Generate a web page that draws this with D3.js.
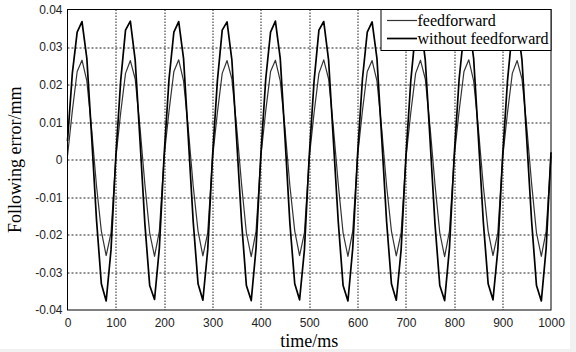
<!DOCTYPE html>
<html>
<head>
<meta charset="utf-8">
<script src="https://cdn.jsdelivr.net/npm/d3@7/dist/d3.min.js"></script>
<style>
  body { margin: 0; background: #fff; }
  .tick-label { font-family: "Liberation Sans", Arial, sans-serif; font-size: 12px; fill: #222; }
  .label { font-family: "Liberation Serif", "Times New Roman", serif; font-size: 18px; fill: #000; }
  .legend-text { font-family: "Liberation Serif", "Times New Roman", serif; font-size: 16px; fill: #000; }
</style>
</head>
<body>
<div id="chart"></div>
<script>
// time axis (ms), sampled every 10 ms
var times = [0, 10, 20, 30, 40, 50, 60, 70, 80, 90,
  100, 110, 120, 130, 140, 150, 160, 170, 180, 190,
  200, 210, 220, 230, 240, 250, 260, 270, 280, 290,
  300, 310, 320, 330, 340, 350, 360, 370, 380, 390,
  400, 410, 420, 430, 440, 450, 460, 470, 480, 490,
  500, 510, 520, 530, 540, 550, 560, 570, 580, 590,
  600, 610, 620, 630, 640, 650, 660, 670, 680, 690,
  700, 710, 720, 730, 740, 750, 760, 770, 780, 790,
  800, 810, 820, 830, 840, 850, 860, 870, 880, 890,
  900, 910, 920, 930, 940, 950, 960, 970, 980, 990,
  1000];

var feedforward = [0.001, 0.013, 0.0235, 0.0265, 0.021, 0.008, -0.007, -0.019, -0.0255, -0.0195,
  0.0005, 0.0125, 0.023, 0.0264, 0.0215, 0.0085, -0.0065, -0.0195, -0.0257, -0.019,
  0.001, 0.013, 0.0235, 0.0266, 0.021, 0.008, -0.007, -0.019, -0.0256, -0.0195,
  0.0005, 0.0125, 0.023, 0.0264, 0.0215, 0.0085, -0.0065, -0.0195, -0.0258, -0.019,
  0.001, 0.013, 0.0235, 0.0265, 0.021, 0.008, -0.007, -0.019, -0.0255, -0.0195,
  0.0005, 0.0125, 0.023, 0.0266, 0.0215, 0.0085, -0.0065, -0.0195, -0.0257, -0.019,
  0.001, 0.013, 0.0235, 0.0264, 0.021, 0.008, -0.007, -0.019, -0.0256, -0.0195,
  0.0005, 0.0125, 0.023, 0.0265, 0.0215, 0.0085, -0.0065, -0.0195, -0.0258, -0.019,
  0.001, 0.013, 0.0235, 0.0266, 0.021, 0.008, -0.007, -0.019, -0.0255, -0.0195,
  0.0005, 0.0125, 0.023, 0.0264, 0.0215, 0.0085, -0.0065, -0.0195, -0.0257, -0.019,
  0.001];

var withoutFeedforward = [0.005, 0.023, 0.034, 0.0368, 0.027, 0.006, -0.016, -0.033, -0.0376, -0.024,
  0.001, 0.021, 0.0345, 0.0369, 0.0265, 0.005, -0.017, -0.0335, -0.0372, -0.0235,
  0.0015, 0.0215, 0.034, 0.0368, 0.027, 0.0055, -0.0165, -0.033, -0.0374, -0.024,
  0.001, 0.021, 0.0345, 0.0367, 0.0265, 0.005, -0.0165, -0.0335, -0.0375, -0.0235,
  0.0015, 0.0215, 0.034, 0.0369, 0.027, 0.0055, -0.017, -0.033, -0.0373, -0.024,
  0.001, 0.021, 0.0345, 0.0368, 0.0265, 0.005, -0.0165, -0.0335, -0.0376, -0.0235,
  0.0015, 0.0215, 0.034, 0.0367, 0.027, 0.0055, -0.0165, -0.033, -0.0374, -0.024,
  0.001, 0.021, 0.0345, 0.0369, 0.0265, 0.005, -0.017, -0.0335, -0.0375, -0.0235,
  0.0015, 0.0215, 0.034, 0.0368, 0.027, 0.0055, -0.0165, -0.033, -0.0373, -0.024,
  0.001, 0.021, 0.0345, 0.0367, 0.0265, 0.005, -0.0165, -0.0335, -0.0376, -0.0235,
  0.002];

var xTicks = [0, 100, 200, 300, 400, 500, 600, 700, 800, 900, 1000];
var xTickLabels = ["0", "100", "200", "300", "400", "500", "600", "700", "800", "900", "1000"];
var yTicks = [0.04, 0.03, 0.02, 0.01, 0, -0.01, -0.02, -0.03, -0.04];
var yTickLabels = ["0.04", "0.03", "0.02", "0.01", "0", "-0.01", "-0.02", "-0.03", "-0.04"];
var legendNames = ["feedforward", "without feedforward"];

(function() {
  var margin = { top: 9.5, left: 67.5, right: 25, bottom: 42 },
  width = 576 - margin.left - margin.right,
  height = 352 - margin.top - margin.bottom;

  var root = d3.select("#chart")
    .append("svg")
    .attr("width", 576)
    .attr("height", 352);

  // faint scan edge of the original figure
  root.append("rect").attr("x", 570).attr("y", 0).attr("width", 6).attr("height", 352).attr("fill", "#f1f1f1");
  root.append("rect").attr("x", 0).attr("y", 349).attr("width", 576).attr("height", 3).attr("fill", "#f1f1f1");

  var svg = root.append("g")
    .attr("transform", "translate(" + margin.left + "," + margin.top + ")");

  var xPositionScale = d3.scaleLinear().domain([0, 1000]).range([0, width]);
  var yPositionScale = d3.scaleLinear().domain([-0.04, 0.04]).range([height, 0]);

  // grid
  svg.selectAll(".hgrid")
    .data(yTicks.slice(1, -1))
    .enter().append("line")
    .attr("class", "hgrid")
    .attr("x1", 0)
    .attr("x2", width)
    .attr("y1", function(d) { return Math.round(yPositionScale(d)) + 0.5 })
    .attr("y2", function(d) { return Math.round(yPositionScale(d)) + 0.5 })
    .attr("stroke", "#222")
    .attr("stroke-width", 1)
    .attr("stroke-dasharray", "2,2");

  svg.selectAll(".vgrid")
    .data(xTicks.slice(1, -1))
    .enter().append("line")
    .attr("class", "vgrid")
    .attr("y1", 0)
    .attr("y2", height)
    .attr("x1", function(d) { return Math.round(xPositionScale(d)) + 0.5 })
    .attr("x2", function(d) { return Math.round(xPositionScale(d)) + 0.5 })
    .attr("stroke", "#222")
    .attr("stroke-width", 1)
    .attr("stroke-dasharray", "1.5,1.5");

  var line = d3.line()
    .x(function(d, i) { return xPositionScale(times[i]) })
    .y(function(d) { return yPositionScale(d) });

  svg.append("path")
    .datum(feedforward)
    .attr("d", line)
    .attr("fill", "none")
    .attr("stroke", "#333")
    .attr("stroke-width", 1.2)
    .attr("stroke-linejoin", "round");

  svg.append("path")
    .datum(withoutFeedforward)
    .attr("d", line)
    .attr("fill", "none")
    .attr("stroke", "#000")
    .attr("stroke-width", 1.7)
    .attr("stroke-linejoin", "round");

  // axes box
  svg.append("rect")
    .attr("x", 0)
    .attr("y", 0)
    .attr("width", width)
    .attr("height", height)
    .attr("fill", "none")
    .attr("stroke", "#000")
    .attr("stroke-width", 1);

  // tick labels
  var xAxis = d3.axisBottom(xPositionScale).tickValues(xTicks).tickSize(0).tickPadding(8)
    .tickFormat(function(d, i) { return xTickLabels[i] });
  var xg = svg.append("g")
    .attr("class", "axis x-axis")
    .attr("transform", "translate(0," + height + ")")
    .call(xAxis);
  xg.select(".domain").remove();
  xg.selectAll("text").attr("class", "tick-label").attr("fill", null);

  var yAxis = d3.axisLeft(yPositionScale).tickValues(yTicks).tickSize(0).tickPadding(5)
    .tickFormat(function(d, i) { return yTickLabels[i] });
  var yg = svg.append("g")
    .attr("class", "axis y-axis")
    .call(yAxis);
  yg.select(".domain").remove();
  yg.selectAll("text").attr("class", "tick-label").attr("fill", null);

  // axis titles
  svg.append("text")
    .attr("class", "label")
    .attr("text-anchor", "middle")
    .attr("x", width / 2)
    .attr("y", height + 37)
    .text("time/ms");

  svg.append("text")
    .attr("class", "label")
    .attr("text-anchor", "middle")
    .attr("transform", "translate(" + (-47) + "," + (height / 2) + ") rotate(-90)")
    .text("Following error/mm");

  // legend
  var legend = svg.append("g")
    .attr("transform", "translate(" + (width - 170) + ",0)");

  legend.append("rect")
    .attr("x", 0)
    .attr("y", 0)
    .attr("width", 170)
    .attr("height", 41)
    .attr("fill", "#fff")
    .attr("stroke", "#000")
    .attr("stroke-width", 1);

  var entry = legend.selectAll(".entry")
    .data(legendNames)
    .enter().append("g")
    .attr("class", "entry")
    .attr("transform", function(d, i) { return "translate(0," + (11 + i * 18) + ")" });

  entry.append("line")
    .attr("x1", 6)
    .attr("x2", 36)
    .attr("y1", 0)
    .attr("y2", 0)
    .attr("stroke", function(d, i) { return i == 0 ? "#333" : "#000" })
    .attr("stroke-width", function(d, i) { return i == 0 ? 1.2 : 1.7 });

  entry.append("text")
    .attr("class", "legend-text")
    .attr("x", 36.5)
    .attr("y", 5.5)
    .text(function(d) { return d });
})();
</script>
</body>
</html>
